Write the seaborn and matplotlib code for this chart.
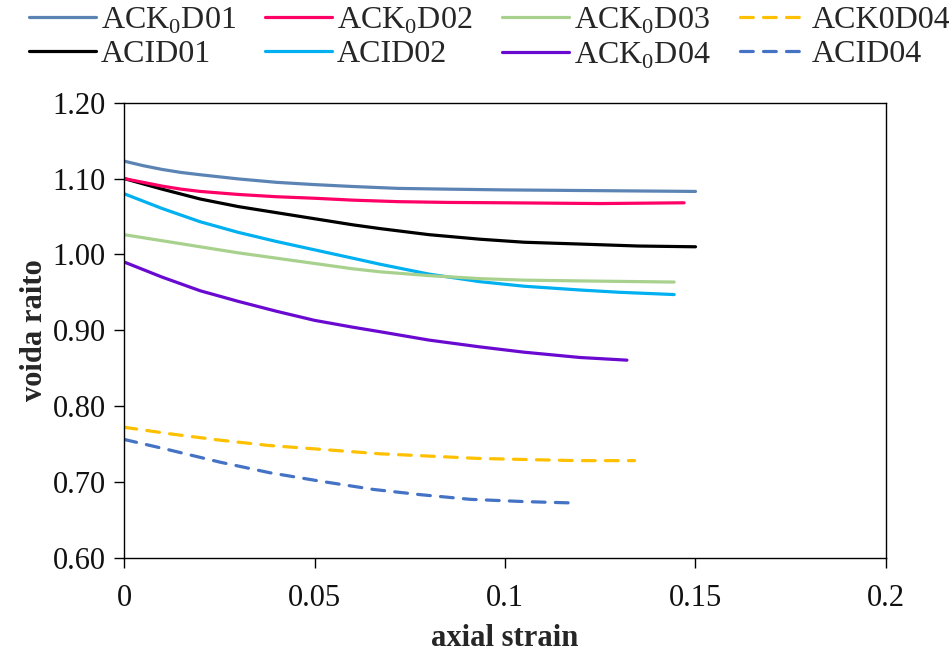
import matplotlib
matplotlib.use("Agg")
import matplotlib.pyplot as plt
import seaborn as sns
import pandas as pd

# ---- data ----
s_01 = [0, 0.005, 0.01, 0.015, 0.02, 0.03, 0.04, 0.05, 0.06, 0.072, 0.085, 0.10, 0.125, 0.150]
v_01 = [1.123, 1.117, 1.112, 1.108, 1.105, 1.0995, 1.095, 1.092, 1.0895, 1.087, 1.086, 1.085, 1.084, 1.083]

s_02 = [0, 0.005, 0.01, 0.015, 0.02, 0.03, 0.04, 0.05, 0.06, 0.072, 0.085, 0.10, 0.125, 0.147]
v_02 = [1.100, 1.095, 1.090, 1.086, 1.083, 1.079, 1.076, 1.074, 1.0715, 1.0695, 1.0685, 1.068, 1.067, 1.068]

s_03 = [0, 0.01, 0.02, 0.03, 0.04, 0.05, 0.06, 0.0672, 0.08, 0.0934, 0.105, 0.1197, 0.1444]
v_03 = [1.026, 1.018, 1.010, 1.002, 0.995, 0.988, 0.981, 0.977, 0.972, 0.968, 0.966, 0.965, 0.9635]

s_d04 = [0, 0.0126, 0.0252, 0.038, 0.0514, 0.0672, 0.08, 0.0926, 0.105, 0.1188, 0.134]
v_d04 = [0.772, 0.763, 0.755, 0.748, 0.743, 0.737, 0.734, 0.731, 0.7295, 0.728, 0.728]

s_i01 = [0, 0.01, 0.02, 0.03, 0.04, 0.05, 0.06, 0.0672, 0.08, 0.0934, 0.105, 0.1197, 0.135, 0.150]
v_i01 = [1.100, 1.086, 1.073, 1.063, 1.055, 1.047, 1.039, 1.034, 1.026, 1.020, 1.016, 1.0136, 1.011, 1.010]

s_i02 = [0, 0.01, 0.02, 0.03, 0.04, 0.05, 0.06, 0.0672, 0.08, 0.0934, 0.105, 0.1197, 0.13, 0.1444]
v_i02 = [1.080, 1.0605, 1.043, 1.029, 1.017, 1.006, 0.995, 0.987, 0.974, 0.964, 0.958, 0.953, 0.950, 0.947]

s_k04 = [0, 0.01, 0.02, 0.03, 0.04, 0.05, 0.06, 0.0672, 0.08, 0.0934, 0.105, 0.1197, 0.132]
v_k04 = [0.990, 0.970, 0.952, 0.938, 0.925, 0.913, 0.904, 0.898, 0.887, 0.878, 0.871, 0.864, 0.8605]

s_i04 = [0, 0.012, 0.0252, 0.0383, 0.0514, 0.0655, 0.078, 0.0908, 0.105, 0.119]
v_i04 = [0.756, 0.742, 0.726, 0.712, 0.701, 0.690, 0.683, 0.677, 0.674, 0.672]

labels = [r"ACK$_\mathregular{0}$D01", "ACID01",
          r"ACK$_\mathregular{0}$D02", "ACID02",
          r"ACK$_\mathregular{0}$D03", r"ACK$_\mathregular{0}$D04",
          "ACK0D04", "ACID04"]
series = [(s_01, v_01), (s_i01, v_i01), (s_02, v_02), (s_i02, v_i02),
          (s_03, v_03), (s_k04, v_k04), (s_d04, v_d04), (s_i04, v_i04)]
colors = ["#5b84b4", "#000000", "#ff0066", "#00b0f0",
          "#a9d18e", "#6a0ad0", "#ffc000", "#4472c4"]
dashed = [False, False, False, False, False, False, True, True]

x_ticks = [0, 0.05, 0.1, 0.15, 0.2]
x_ticklabels = ["0", "0.05", "0.1", "0.15", "0.2"]
y_ticks = [0.6, 0.7, 0.8, 0.9, 1.0, 1.1, 1.2]
y_ticklabels = ["0.60", "0.70", "0.80", "0.90", "1.00", "1.10", "1.20"]

sns.set_theme(style="white")
plt.rcParams["font.family"] = ["Liberation Serif", "DejaVu Serif"]
plt.rcParams["mathtext.fontset"] = "custom"
plt.rcParams["mathtext.rm"] = "Liberation Serif"

fig = plt.figure(figsize=(9.49, 6.55), dpi=100)
ax = fig.add_axes([124 / 949, 1 - 557.7 / 655, (886 - 124) / 949, (557.7 - 102.7) / 655])

handles = []
for (sx, sy), lab, col, d in zip(series, labels, colors, dashed):
    df = pd.DataFrame({"strain": sx, "void": sy})
    sns.lineplot(data=df, x="strain", y="void", ax=ax, color=col, lw=2.3,
                 label=lab, sort=True, estimator=None)
    ln = ax.get_lines()[-1]
    ln.set_solid_joinstyle("round")
    ln.set_dash_joinstyle("round")
    if d:
        ln.set_dashes((4, 3.2))
        ln.set_dash_capstyle("round")
    else:
        ln.set_solid_capstyle("round")
    handles.append(ln)

ax.set_xlim(0, 0.2)
ax.set_ylim(0.6, 1.2)
ax.set_xticks(x_ticks)
ax.set_xticklabels(x_ticklabels)
ax.set_yticks(y_ticks)
ax.set_yticklabels(y_ticklabels)
ax.tick_params(axis="both", direction="out", length=7, width=1, color="black",
               labelsize=22, labelcolor="#111111", bottom=True, left=True)
ax.tick_params(axis="x", pad=12)
ax.tick_params(axis="y", pad=6)
for sp in ax.spines.values():
    sp.set_visible(True)
    sp.set_color("black")
    sp.set_linewidth(1.0)

ax.set_xlabel("axial strain", fontsize=22, fontweight="bold", labelpad=8)
ax.set_ylabel("voida raito", fontsize=22, fontweight="bold", labelpad=3)

ax.get_legend().remove()
fig.legend(handles=handles, labels=labels, loc="upper left",
           bbox_to_anchor=(29 / 949, 0.992), ncol=4, frameon=False,
           fontsize=23, handlelength=2.1, handletextpad=0.15,
           columnspacing=0.92, labelspacing=0.14, borderpad=0, borderaxespad=0)

fig.savefig("out.png", dpi=100)
